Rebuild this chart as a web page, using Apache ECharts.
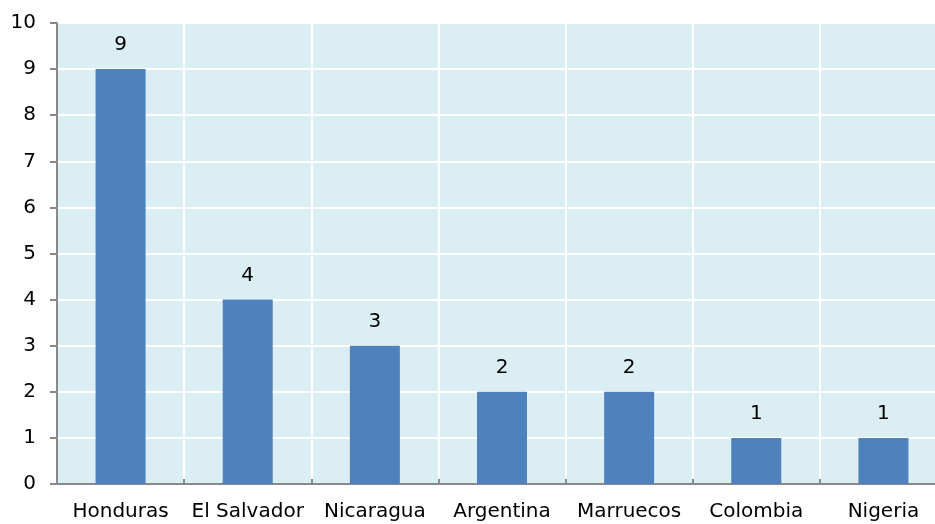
<!DOCTYPE html>
<html><head><meta charset="utf-8">
<script src="https://cdn.jsdelivr.net/npm/echarts@6/dist/echarts.min.js"></script>
<style>html,body{margin:0;padding:0;background:#fff;overflow:hidden}#c{width:960px;height:524px}</style>
</head><body><div id="c"></div>
<script>
const categories = ["Honduras","El Salvador","Nicaragua","Argentina","Marruecos","Colombia","Nigeria"];
const values = [9,4,3,2,2,1,1];
const yTicks = [0,1,2,3,4,5,6,7,8,9,10];

const chart = echarts.init(document.getElementById('c'), null, {renderer:'canvas'});
const font = "DejaVu Sans";
chart.setOption({
  animation:false,
  grid:{left:57,width:890,top:23,height:461,show:true,backgroundColor:'#DBEEF3',borderWidth:0},
  xAxis:{type:'category',data:categories,
    axisLine:{lineStyle:{color:'#898989',width:2}},
    axisTick:{show:true,inside:true,length:5,lineStyle:{color:'#898989',width:2}},
    splitLine:{show:true,lineStyle:{color:'#ffffff',width:2}},
    axisLabel:{color:'#000',fontFamily:font,fontSize:20,margin:18,interval:0}},
  yAxis:{type:'value',min:yTicks[0],max:yTicks[yTicks.length-1],interval:1,
    axisLine:{show:true,lineStyle:{color:'#898989',width:2}},
    axisTick:{show:true,length:7,lineStyle:{color:'#898989',width:2}},
    splitLine:{show:true,lineStyle:{color:'#ffffff',width:2}},
    axisLabel:{color:'#000',fontFamily:font,fontSize:20,margin:21}},
  series:[{type:'bar',data:values,barWidth:50,
    itemStyle:{color:'#4F81BD'},
    label:{show:true,position:'top',distance:14,color:'#000',fontFamily:font,fontSize:20}}]
});
</script></body></html>
